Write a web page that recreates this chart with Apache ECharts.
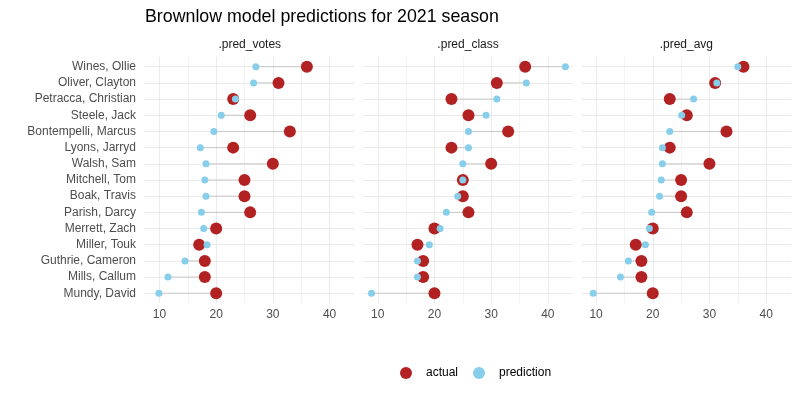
<!DOCTYPE html>
<html>
<head>
<meta charset="utf-8">
<script src="https://cdn.jsdelivr.net/npm/echarts@6/dist/echarts.min.js"></script>
<style>
  html, body { margin: 0; padding: 0; background: #fff; }
  #chart { width: 800px; height: 400px; }
</style>
</head>
<body>
<div id="chart"></div>
<script>
// players, top to bottom
const players = ['Wines, Ollie', 'Oliver, Clayton', 'Petracca, Christian', 'Steele, Jack',
  'Bontempelli, Marcus', 'Lyons, Jarryd', 'Walsh, Sam', 'Mitchell, Tom', 'Boak, Travis',
  'Parish, Darcy', 'Merrett, Zach', 'Miller, Touk', 'Guthrie, Cameron', 'Mills, Callum', 'Mundy, David']
const actual = [36, 31, 23, 26, 33, 23, 30, 25, 25, 26, 20, 17, 18, 18, 20]
const predVotes = [27.0, 26.6, 23.4, 20.9, 19.6, 17.2, 18.2, 18.0, 18.2, 17.4, 17.8, 18.4, 14.5, 11.5, 9.9]
const predClass = [43.1, 36.2, 31.0, 29.1, 26.0, 26.0, 25.0, 25.0, 24.1, 22.1, 21.0, 19.1, 17.0, 17.0, 8.9]
const predAvg = [35.0, 31.3, 27.2, 25.1, 23.0, 21.7, 21.7, 21.5, 21.2, 19.8, 19.4, 18.7, 15.7, 14.3, 9.5]
const facets = ['.pred_votes', '.pred_class', '.pred_avg']
const majorTicks = [10, 20, 30, 40]
const minorTicks = [15, 25, 35]

const preds = [predVotes, predClass, predAvg]
const font = 'Liberation Sans, Arial, sans-serif'
const gridColor = '#ebebeb'
const panelLeft = [145, 363.3, 581.6]
const rowIdx = players.map((p, i) => i)

const chart = echarts.init(document.getElementById('chart'))

const grids = [], xAxes = [], yAxes = [], series = []
facets.forEach((name, k) => {
  grids.push({left: panelLeft[k], top: 57, width: 209.5, height: 246})
  // bottom axis: labels + major grid
  xAxes.push({
    type: 'value', gridIndex: k, min: 7.45, max: 44.4,
    axisLine: {show: false},
    axisTick: {show: false, customValues: majorTicks},
    axisLabel: {customValues: majorTicks, margin: 6, color: '#4d4d4d', fontSize: 12, fontFamily: font},
    splitLine: {show: true, lineStyle: {color: gridColor, width: 1}}
  })
  // top axis: minor grid + facet strip
  xAxes.push({
    type: 'value', gridIndex: k, position: 'top', min: 7.45, max: 44.4,
    name: name, nameLocation: 'middle', nameGap: 6,
    nameTextStyle: {color: '#1a1a1a', fontSize: 12, fontFamily: font},
    axisLine: {show: false},
    axisTick: {show: false, customValues: minorTicks},
    axisLabel: {show: false},
    splitLine: {show: true, lineStyle: {color: gridColor, width: 0.6}}
  })
  yAxes.push({
    type: 'value', gridIndex: k, min: -0.6, max: 14.6, inverse: true,
    axisLine: {show: false},
    axisTick: {show: false, customValues: rowIdx},
    axisLabel: {
      show: k === 0, customValues: rowIdx, margin: 9,
      color: '#4d4d4d', fontSize: 12, fontFamily: font,
      formatter: v => players[Math.round(v)]
    },
    splitLine: {show: true, lineStyle: {color: gridColor, width: 1}}
  })

  const pred = preds[k]
  // grey segment from prediction to actual
  series.push({
    type: 'custom', xAxisIndex: k * 2, yAxisIndex: k, silent: true,
    encode: {x: [0, 1], y: 2},
    data: players.map((p, i) => [pred[i], actual[i], i]),
    renderItem: function (params, api) {
      const a = api.coord([api.value(0), api.value(2)])
      const b = api.coord([api.value(1), api.value(2)])
      return {
        type: 'line',
        shape: {x1: a[0], y1: a[1], x2: b[0], y2: b[1]},
        style: {stroke: '#c8c8c8', lineWidth: 1}
      }
    }
  })
  series.push({
    name: 'actual', type: 'scatter', xAxisIndex: k * 2, yAxisIndex: k,
    symbolSize: 12, itemStyle: {color: '#b22222', opacity: 1},
    data: players.map((p, i) => [actual[i], i])
  })
  series.push({
    name: 'prediction', type: 'scatter', xAxisIndex: k * 2, yAxisIndex: k,
    symbolSize: 7, itemStyle: {color: '#87ceeb', opacity: 1},
    data: players.map((p, i) => [pred[i], i])
  })
})

chart.setOption({
  animation: false,
  title: {
    text: 'Brownlow model predictions for 2021 season',
    left: 145, top: 8, padding: 0,
    textStyle: {color: '#000', fontSize: 17.8, fontWeight: 'normal', fontFamily: font}
  },
  legend: {
    data: ['actual', 'prediction'],
    left: 400, top: 367, padding: 0,
    icon: 'circle', itemWidth: 12, itemHeight: 12, itemGap: 15,
    selectedMode: false,
    textStyle: {color: '#000', fontSize: 12, fontFamily: font, padding: [0, 0, 0, 9]}
  },
  grid: grids,
  xAxis: xAxes,
  yAxis: yAxes,
  series: series
})
</script>
</body>
</html>
